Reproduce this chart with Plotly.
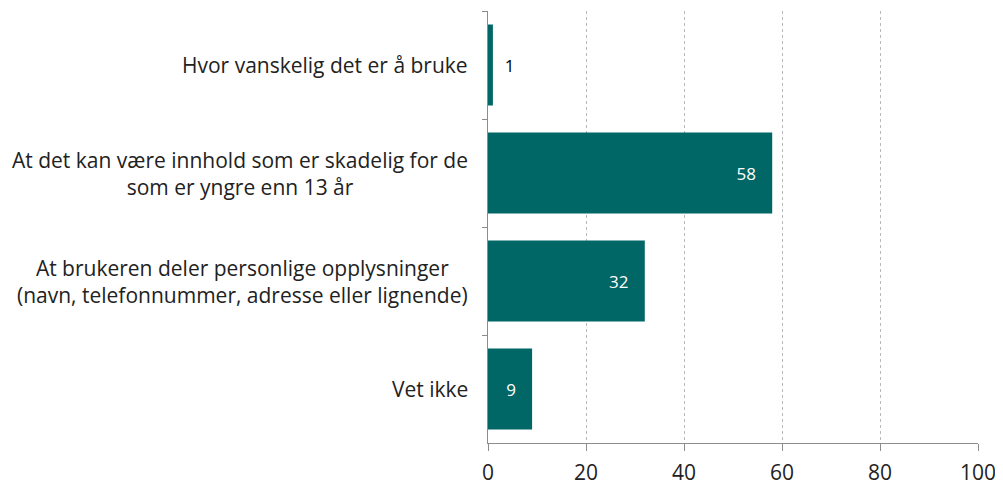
import plotly.graph_objects as go

categories = [
    "Hvor vanskelig det er å bruke",
    "At det kan være innhold som er skadelig for de<br>som er yngre enn 13 år",
    "At brukeren deler personlige opplysninger<br>(navn, telefonnummer, adresse eller lignende)",
    "Vet ikke",
]
values = [1, 58, 32, 9]
text_positions = ["outside", "inside", "inside", "inside"]

NB = "\u00a0"
labels = [
    (NB * 2 + str(v)) if pos == "outside" else (str(v) + NB * 3)
    for v, pos in zip(values, text_positions)
]

fig = go.Figure(go.Bar(
    x=values,
    y=categories,
    orientation="h",
    marker=dict(color="#006666", line=dict(width=0)),
    width=0.75,
    text=labels,
    textposition=text_positions,
    insidetextanchor="end",
    insidetextfont=dict(color="white", size=17, family="Open Sans"),
    outsidetextfont=dict(color="black", size=17, family="Open Sans"),
    constraintext="none",
    cliponaxis=False,
))

for cat in categories:
    fig.add_annotation(
        x=0, xref="paper", y=cat, yref="y",
        text=cat, showarrow=False,
        xanchor="right", yanchor="middle", align="center",
        xshift=-18,
        font=dict(size=21, color="#222222", family="Open Sans"),
    )

fig.update_layout(
    width=995, height=480,
    margin=dict(l=480, r=25, t=3, b=45),
    plot_bgcolor="white", paper_bgcolor="white",
    showlegend=False,
    font=dict(family="Open Sans", color="#222222"),
)
fig.update_xaxes(
    range=[0, 100], dtick=20,
    showgrid=True, gridcolor="#b8b8b8", griddash="dot", gridwidth=1,
    showline=True, linecolor="#8c8c8c", linewidth=1,
    ticks="outside", ticklen=7, tickcolor="#8c8c8c",
    tickfont=dict(size=21, color="#222222"),
    ticklabelstandoff=4,
    zeroline=False,
)
fig.update_yaxes(
    autorange="reversed",
    showline=True, linecolor="#8c8c8c", linewidth=1,
    ticks="outside", ticklen=5, tickcolor="#8c8c8c", tickson="boundaries",
    showticklabels=False,
    showgrid=False,
)

fig.write_html("out.html")
